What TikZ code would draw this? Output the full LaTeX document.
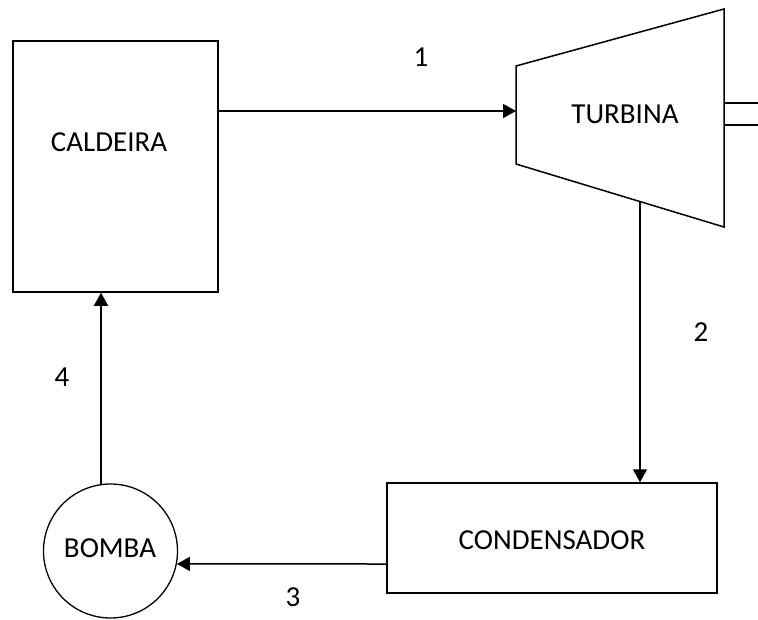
\documentclass[tikz,border=0pt]{standalone}
\usepackage{fontspec}
\setmainfont{Carlito}
\usetikzlibrary{arrows.meta}
\begin{document}
\begin{tikzpicture}[x=1pt,y=-1pt,
  every node/.style={font=\fontsize{29}{33}\selectfont},
  unitbox/.style={draw,line width=1.5pt,inner sep=0pt},
  pumpcircle/.style={draw,circle,line width=1.3pt,minimum size=134pt,inner sep=0pt},
  flow/.style={line width=1.5pt,-{Triangle[width=14pt,length=13pt]}},
  plain/.style={line width=1.5pt},
  lbl/.style={inner sep=0pt}]
\useasboundingbox (0,0) rectangle (758,619);
% Caldeira
\node[unitbox,minimum width=205pt,minimum height=251pt] (cal) at (115.5,166.5) {};
\node[lbl] (caltxt) at (109,142) {CALDEIRA};
% Turbina
\coordinate (t1) at (516,66);
\coordinate (t2) at (724,9);
\coordinate (t3) at (724,227);
\coordinate (t4) at (516,164);
\draw[line width=1.5pt,line join=miter] (t1) -- (t2) -- (t3) -- (t4) -- cycle;
\node[lbl] (turtxt) at (625,114) {TURBINA};
\coordinate (s1) at (724,103);
\coordinate (s2) at (724,125);
\coordinate (s1e) at (758,103);
\coordinate (s2e) at (758,125);
\draw[plain] (s1) -- (s1e);
\draw[plain] (s2) -- (s2e);
% Condensador
\node[unitbox,minimum width=330pt,minimum height=110pt] (cond) at (552,538) {};
\node[lbl] (condtxt) at (552,540) {CONDENSADOR};
% Bomba
\node[pumpcircle] (bomba) at (110.5,551) {};
\node[lbl] (bombatxt) at (110,548) {BOMBA};
% Connectors
\coordinate (tin) at (516,111);
\draw[flow] (cal.east |- tin) -- (tin);
\coordinate (tout) at (640,201.5);
\draw[flow] (tout) -- (tout |- cond.north);
\coordinate (c3) at (387,564);
\draw[flow] (c3) -- (bomba.-11);
\coordinate (b4) at (101,484.5);
\draw[flow] (b4) -- (b4 |- cal.south);
% Labels
\node[lbl] (l1) at (421,57) {1};
\node[lbl] (l2) at (701,332) {2};
\node[lbl] (l3) at (293,597) {3};
\node[lbl] (l4) at (62,377) {4};
\end{tikzpicture}
\end{document}
